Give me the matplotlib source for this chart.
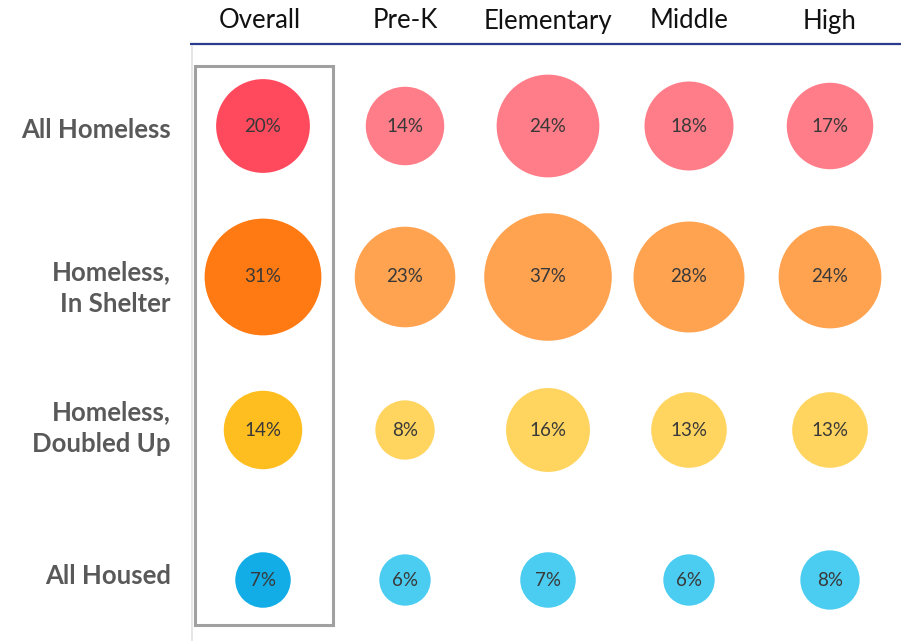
import matplotlib

matplotlib.use("Agg")
import matplotlib.pyplot as plt
from matplotlib.patches import Rectangle

# grade levels (columns) and housing groups (rows)
levels = ["Overall", "Pre-K", "Elementary", "Middle", "High"]
groups = ["All Homeless", "Homeless,\nIn Shelter", "Homeless,\nDoubled Up", "All Housed"]

all_homeless = [20, 14, 24, 18, 17]
in_shelter = [31, 23, 37, 28, 24]
doubled_up = [14, 8, 16, 13, 13]
all_housed = [7, 6, 7, 6, 8]
values = [all_homeless, in_shelter, doubled_up, all_housed]

# first colour for the Overall column, second for the grade columns
row_colors = [
    ("#FF4A5E", "#FF7D88"),
    ("#FF7A12", "#FFA351"),
    ("#FFBE20", "#FFD45F"),
    ("#12ACE6", "#4BCDF1"),
]

FONT = ["Lato", "DejaVu Sans"]

W, H = 901, 641
fig = plt.figure(figsize=(W / 100, H / 100), dpi=100)
ax = fig.add_axes([0, 0, 1, 1])
ax.set_xlim(0, W)
ax.set_ylim(H, 0)
ax.set_aspect("equal")
ax.axis("off")

col_x = [263, 405, 548, 689, 830]
row_y = [126, 277, 430, 580]
label_y = [130, 288, 428, 576]
size_k = 228  # marker area (pt^2) per percentage point

for i, (row, (c_all, c_grade)) in enumerate(zip(values, row_colors)):
    for j, v in enumerate(row):
        ax.scatter(col_x[j], row_y[i], s=v * size_k, color=c_all if j == 0 else c_grade,
                   edgecolors="none", zorder=2)
        ax.text(col_x[j], row_y[i], f"{v}%", ha="center", va="center", fontsize=13.5,
                color="#383838", family=FONT, zorder=3)
    ax.text(171, label_y[i], groups[i], ha="right", va="center", fontsize=18.5,
            fontweight="bold", color="#595959", family=FONT, linespacing=1.42)

for j, name in enumerate(levels):
    ax.text(col_x[j] - 3 if j == 0 else col_x[j], 21, name, ha="center", va="center",
            fontsize=18.5, color="#111111", family=FONT)

# header rule and faint left guide
ax.plot([190, W], [44, 44], color="#2B3A8A", lw=1.6, solid_capstyle="butt")
ax.plot([192, 192], [46, H], color="#E2E2E2", lw=1.2)

# box around the Overall column
ax.add_patch(Rectangle((195, 66), 138, 559, fill=False, edgecolor="#A0A0A0", lw=2.2, zorder=4))

fig.savefig("out.png", dpi=100, facecolor="white")
